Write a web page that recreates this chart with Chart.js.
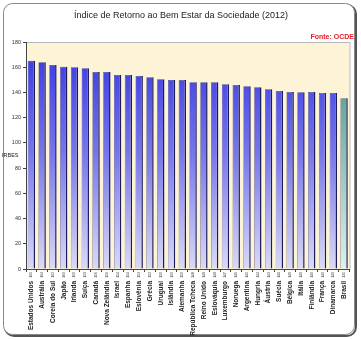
<!DOCTYPE html>
<html>
<head>
<meta charset="utf-8">
<script src="https://cdn.jsdelivr.net/npm/chart.js@4"></script>
<style>
  html, body { margin: 0; padding: 0; background: #fff; }
  #wrap { width: 361px; height: 340px; }
</style>
</head>
<body>
<div id="wrap"><canvas id="irbesChart" width="361" height="340"></canvas></div>
<script>
const paises = ['Estados Unidos', 'Austrália', 'Coreia do Sul', 'Japão', 'Irlanda', 'Suíça', 'Canadá',
  'Nova Zelândia', 'Israel', 'Espanha', 'Eslovênia', 'Grécia', 'Uruguai', 'Islândia', 'Alemanha',
  'República Tcheca', 'Reino Unido', 'Eslováquia', 'Luxemburgo', 'Noruega', 'Argentina', 'Hungria',
  'Áustria', 'Suécia', 'Bélgica', 'Itália', 'Finlândia', 'França', 'Dinamarca', 'Brasil'];
const irbes = [165.2, 163.9, 161.8, 160.4, 159.9, 159.2, 156.2, 156.2, 153.8, 153.8, 153.0, 152.0,
  150.4, 149.9, 149.9, 148.1, 148.1, 148.1, 146.5, 145.9, 144.9, 144.1, 142.5, 141.2, 140.4, 140.1,
  140.4, 139.6, 139.6, 135.4];
const yTicks = [0, 20, 40, 60, 80, 100, 120, 140, 160, 180];
const destaque = 'Brasil';

function barFill(context) {
  const chart = context.chart;
  const area = chart.chartArea;
  if (!area) return '#4040e0';
  const g = chart.ctx.createLinearGradient(0, area.top, 0, area.bottom);
  if (paises[context.dataIndex] === destaque) {
    g.addColorStop(0, '#3c8c84');
    g.addColorStop(1, '#dcf2ee');
  } else {
    g.addColorStop(0, '#3434e2');
    g.addColorStop(0.5, '#7878ea');
    g.addColorStop(1, '#dadaf8');
  }
  return g;
}

const framePlugin = {
  id: 'frame',
  beforeDraw(chart) {
    const ctx = chart.ctx;
    const a = chart.chartArea;
    ctx.save();
    ctx.fillStyle = '#fff';
    ctx.fillRect(0, 0, chart.width, chart.height);
    // outer rounded frame, darker shadow on bottom/right
    ctx.strokeStyle = '#555';
    ctx.lineWidth = 2;
    ctx.beginPath();
    ctx.roundRect(5, 5, 351, 331, 9);
    ctx.stroke();
    ctx.strokeStyle = '#888';
    ctx.lineWidth = 1;
    ctx.fillStyle = '#fff';
    ctx.beginPath();
    ctx.roundRect(3.5, 3.5, 351, 331, 9);
    ctx.fill();
    ctx.stroke();
    // plot background
    ctx.fillStyle = '#fdf4d8';
    ctx.fillRect(a.left, a.top, a.right - a.left, a.bottom - a.top);
    ctx.strokeStyle = '#b8b8b8';
    ctx.strokeRect(a.left + 0.5, a.top + 0.5, a.right - a.left, a.bottom - a.top);
    // title + source
    ctx.fillStyle = '#222';
    ctx.font = '9px "Liberation Sans", Arial, sans-serif';
    ctx.textAlign = 'center';
    ctx.textBaseline = 'middle';
    ctx.fillText('Índice de Retorno ao Bem Estar da Sociedade (2012)', 181, 16);
    ctx.fillStyle = '#e8202a';
    ctx.font = 'bold 7px "Liberation Sans", Arial, sans-serif';
    ctx.textAlign = 'right';
    ctx.fillText('Fonte: OCDE', 354, 37);
    ctx.restore();
  },
  afterDraw(chart) {
    const ctx = chart.ctx;
    const y = chart.scales.y;
    const x = chart.scales.x;
    ctx.save();
    // horizontal y-axis title
    ctx.fillStyle = '#222';
    ctx.font = '5.5px "Liberation Sans", Arial, sans-serif';
    ctx.textAlign = 'left';
    ctx.textBaseline = 'middle';
    ctx.fillText('IRBES', 2, y.getPixelForValue(90));
    // tiny value labels under the axis
    ctx.font = '3.5px "Liberation Sans", Arial, sans-serif';
    ctx.fillStyle = '#333';
    ctx.textAlign = 'right';
    irbes.forEach((v, i) => {
      ctx.save();
      ctx.translate(x.getPixelForValue(i), y.bottom + 3);
      ctx.rotate(-Math.PI / 2);
      ctx.fillText(Math.round(v).toString(), 0, 0);
      ctx.restore();
    });
    ctx.restore();
  }
};

new Chart(document.getElementById('irbesChart').getContext('2d'), {
  type: 'bar',
  data: {
    labels: paises,
    datasets: [{
      label: 'IRBES',
      data: irbes,
      backgroundColor: barFill,
      borderColor: '#1c1c5a',
      borderWidth: { top: 0.5, right: 1.5, bottom: 0, left: 0.5 },
      borderSkipped: false,
      categoryPercentage: 0.68,
      barPercentage: 1
    }]
  },
  options: {
    responsive: false,
    animation: false,
    layout: { padding: { top: 42, right: 5, bottom: 0, left: 0 } },
    scales: {
      y: {
        min: 0,
        max: 180,
        afterFit(scale) { scale.width = 26; },
        afterBuildTicks(scale) { scale.ticks = yTicks.map(v => ({ value: v })); },
        ticks: {
          color: '#333',
          padding: 2,
          font: { size: 5.5, family: '"Liberation Sans", Arial, sans-serif' }
        },
        grid: { drawOnChartArea: false, tickLength: 3, color: '#444' },
        border: { color: '#444' }
      },
      x: {
        afterFit(scale) { scale.height = 71; },
        ticks: {
          color: '#222',
          autoSkip: false,
          maxRotation: 90,
          minRotation: 90,
          padding: 9,
          font: { size: 6.5, weight: 'bold', family: '"Liberation Sans", Arial, sans-serif' }
        },
        grid: { drawOnChartArea: false, tickLength: 3, color: '#444', offset: true },
        border: { color: '#444' }
      }
    },
    plugins: {
      legend: { display: false },
      title: { display: false },
      tooltip: { enabled: false }
    }
  },
  plugins: [framePlugin]
});
</script>
</body>
</html>
